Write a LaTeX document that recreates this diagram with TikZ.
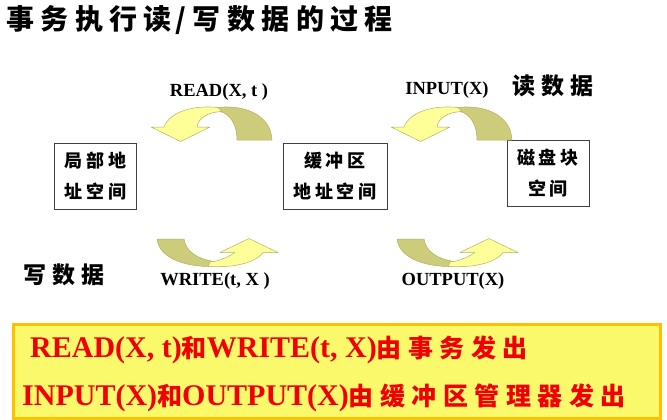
\documentclass[tikz,border=0pt]{standalone}
\usepackage{fontspec}
\setmainfont{Liberation Serif}
\newfontfamily\cjk{Noto Sans CJK SC}[BoldFont={Noto Sans CJK SC Black}]
\definecolor{bowfront}{HTML}{FFFF99}
\definecolor{bowback}{HTML}{CCCC7A}
\definecolor{bowedge}{HTML}{B0B068}
\definecolor{notefill}{HTML}{F9F96B}
\definecolor{noteframe}{HTML}{FFC000}
\definecolor{notered}{HTML}{F00000}
\tikzset{
  front/.style={fill=bowfront, draw=bowedge, line width=0.5pt, line join=round},
  back/.style={fill=bowback, draw=bowedge, line width=0.5pt, line join=round},
  space/.style={draw=black!75, line width=0.8pt, minimum height=66pt, align=center,
    font=\cjk\bfseries\fontsize{18}{30.5}\selectfont\addfontfeature{LetterSpace=22}},
  oplabel/.style={font=\bfseries\fontsize{18.5}{20}\selectfont, text=black},
  sidelabel/.style={font=\cjk\bfseries\fontsize{23}{24}\selectfont\addfontfeature{LetterSpace=25}},
  % curved arrow arching over, head pointing down on the left
  bowdown/.pic={
    \path[back] (216,107.5) .. controls (250,104) and (271,118) .. (272,140)
      -- (237,140) .. controls (237,126) and (231,114) .. (220,111.5) -- cycle;
    \path[front] (151,127) -- (164,127) .. controls (170,111) and (195,105) .. (218,107.5)
      -- (222,111.5) .. controls (208,112) and (198,118) .. (197,127)
      -- (210,127) -- (180.5,141.5) -- cycle;
  },
  % curved arrow dipping under, head pointing up on the right
  bowup/.pic={
    \path[back] (157,239) .. controls (159,258) and (185,267) .. (212,266.5)
      -- (214,261.5) .. controls (198,259) and (186,252) .. (184,239) -- cycle;
    \path[front] (208,266.5) .. controls (233,268) and (256,263) .. (263,252.5)
      -- (278,252.5) -- (249,238.5) -- (220,252.5) -- (235,252.5)
      .. controls (228,257) and (220,261) .. (210,262) -- cycle;
  }
}
\begin{document}
\begin{tikzpicture}[x=1pt, y=-1pt]
\useasboundingbox (0,0) rectangle (667,420);

% heading
\node[anchor=west, inner sep=0pt] (title) at (6,20)
  {\cjk\bfseries\fontsize{28}{30}\selectfont\addfontfeature{LetterSpace=23}事务执行读\hspace{4pt}/\hspace{6pt}写数据的过程};

% the three address spaces
\node[space, minimum width=82pt]  (local)  at (95.5,176) {局部地\\址空间};
\node[space, minimum width=104pt] (buffer) at (335,176)  {缓冲区\\地址空间};
\node[space, minimum width=82pt]  (disk)   at (548,173)  {磁盘块\\空间};

% transfer arrows
\pic at (0,0)   {bowdown};
\pic at (240,0) {bowdown};
\pic at (0,0)   {bowup};
\pic at (240,0) {bowup};

% operation labels
\node[oplabel] (read)   at (219,92)  {READ(X, t )};
\node[oplabel] (input)  at (447,90)  {INPUT(X)};
\node[oplabel] (write)  at (215,281) {WRITE(t, X )};
\node[oplabel] (output) at (453,281) {OUTPUT(X)};

\node[sidelabel] (readdata)  at (553,86)  {读数据};
\node[sidelabel] (writedata) at (64,275)  {写数据};

% note at the bottom
\node[draw=noteframe, line width=3pt, fill=notefill, minimum width=647pt, minimum height=94pt,
  inner sep=0pt] (note) at (336.5,371) {};
\node[anchor=base west, inner sep=0pt, text=notered] (line1) at (30,357)
  {\bfseries\fontsize{30}{32}\selectfont READ(X, t)\cjk\fontsize{25}{32}\selectfont\addfontfeature{LetterSpace=20}和\rmfamily\bfseries\fontsize{30}{32}\selectfont WRITE(t, X)\cjk\fontsize{25}{32}\selectfont\addfontfeature{LetterSpace=26}由事务发出};
\node[anchor=base west, inner sep=0pt, text=notered] (line2) at (22,405)
  {\bfseries\fontsize{30}{32}\selectfont INPUT(X)\cjk\fontsize{25}{32}\selectfont\addfontfeature{LetterSpace=20}和\rmfamily\bfseries\fontsize{30}{32}\selectfont OUTPUT(X)\cjk\fontsize{25}{32}\selectfont\addfontfeature{LetterSpace=26}由缓冲区管理器发出};
\end{tikzpicture}
\end{document}
